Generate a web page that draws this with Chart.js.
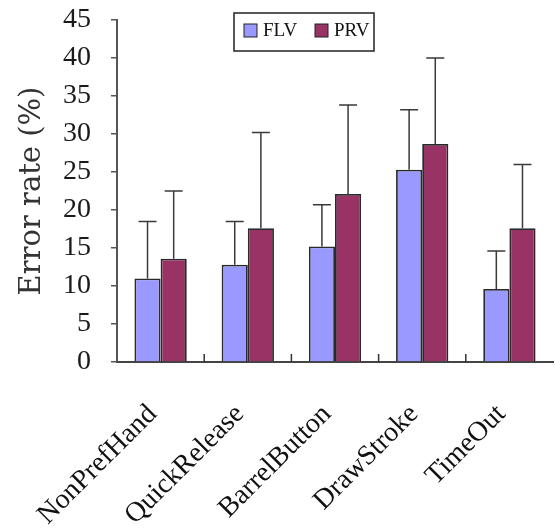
<!DOCTYPE html>
<html lang="en">
<head>
<meta charset="UTF-8">
<title>Error rate by technique</title>
<script src="https://cdn.jsdelivr.net/npm/chart.js"></script>
<style>
  html, body { margin: 0; padding: 0; background: #fff; }
  #wrap { width: 555px; height: 531px; position: relative; }
</style>
</head>
<body>
<div id="wrap"><canvas id="errChart"></canvas></div>
<script>
// values (mean and +1 SD)
const categories = ['NonPrefHand', 'QuickRelease', 'BarrelButton', 'DrawStroke', 'TimeOut'];
const flvValues = [11.0, 12.8, 15.2, 25.3, 9.6];
const flvSd = [7.5, 5.7, 5.5, 7.9, 5.0];
const prvValues = [13.6, 17.6, 22.1, 28.7, 17.6];
const prvSd = [8.9, 12.6, 11.7, 11.3, 8.4];
const yMin = 0, yMax = 45, yStep = 5;

// vertical error bars, only the upper half
const errorBars = {
  id: 'errorBars',
  afterDatasetsDraw(chart) {
    const ctx = chart.ctx;
    const y = chart.scales.y;
    chart.data.datasets.forEach((ds, di) => {
      const meta = chart.getDatasetMeta(di);
      meta.data.forEach((bar, i) => {
        const top = y.getPixelForValue(ds.data[i] + ds.sd[i]);
        ctx.save();
        ctx.strokeStyle = '#3a3a3a';
        ctx.lineWidth = 1.5;
        ctx.beginPath();
        ctx.moveTo(bar.x, bar.y);
        ctx.lineTo(bar.x, top);
        ctx.moveTo(bar.x - 9, top);
        ctx.lineTo(bar.x + 9, top);
        ctx.stroke();
        ctx.restore();
      });
    });
  }
};

// small inward ticks between the groups on the x axis
const innerTicks = {
  id: 'innerTicks',
  afterDraw(chart) {
    const ctx = chart.ctx;
    const x = chart.scales.x;
    const bottom = chart.chartArea.bottom;
    ctx.save();
    ctx.strokeStyle = '#333';
    ctx.lineWidth = 1.5;
    ctx.beginPath();
    for (let i = 1; i < categories.length; i++) {
      const px = (x.getPixelForValue(i - 1) + x.getPixelForValue(i)) / 2;
      ctx.moveTo(px, bottom);
      ctx.lineTo(px, bottom - 8);
    }
    ctx.stroke();
    ctx.restore();
  }
};

// boxed legend inside the plot
const boxLegend = {
  id: 'boxLegend',
  afterDraw(chart) {
    const ctx = chart.ctx;
    ctx.save();
    ctx.fillStyle = '#fff';
    ctx.fillRect(234, 13, 140, 38);
    ctx.strokeStyle = '#222';
    ctx.lineWidth = 1.5;
    ctx.strokeRect(234, 13, 140, 38);
    ctx.font = '19px "Liberation Serif"';
    ctx.textBaseline = 'middle';
    const xs = [244, 315];
    chart.data.datasets.forEach((ds, i) => {
      ctx.fillStyle = ds.backgroundColor;
      ctx.fillRect(xs[i], 24, 13, 13);
      ctx.strokeStyle = '#222';
      ctx.lineWidth = 1;
      ctx.strokeRect(xs[i], 24, 13, 13);
      ctx.fillStyle = '#111';
      ctx.fillText(ds.label, xs[i] + 19, 31);
    });
    ctx.restore();
  }
};

new Chart(document.getElementById('errChart'), {
  type: 'bar',
  data: {
    labels: categories,
    datasets: [
      { label: 'FLV', data: flvValues, sd: flvSd, backgroundColor: '#9999ff', borderColor: '#2a2a2a', borderWidth: 1.8 },
      { label: 'PRV', data: prvValues, sd: prvSd, backgroundColor: '#993366', borderColor: '#2a2a2a', borderWidth: 1.8 }
    ]
  },
  options: {
    responsive: true,
    maintainAspectRatio: false,
    animation: false,
    devicePixelRatio: 1,
    layout: { padding: { top: 20, right: 2, left: 0, bottom: 0 } },
    datasets: { bar: { categoryPercentage: 0.6, barPercentage: 1.0 } },
    plugins: { legend: { display: false }, tooltip: { enabled: false } },
    scales: {
      x: {
        grid: { display: false, drawTicks: false },
        border: { display: true, color: '#444', width: 2 },
        ticks: {
          color: '#111',
          font: { family: 'Liberation Serif', size: 28 },
          minRotation: 45,
          maxRotation: 45,
          padding: 36,
          labelOffset: -8
        },
        afterFit(scale) {
          scale.height = 169;
          scale.paddingLeft = 0;
          scale.paddingRight = 0;
        }
      },
      y: {
        min: yMin,
        max: yMax,
        grid: { drawOnChartArea: false, drawTicks: true, tickLength: 6, color: '#555', lineWidth: 1.5 },
        border: { display: true, color: '#555', width: 2 },
        ticks: {
          stepSize: yStep,
          autoSkip: false,
          color: '#1a1a1a',
          padding: 20,
          font: { family: 'Liberation Serif', size: 28 }
        },
        title: {
          display: true,
          text: 'Error rate (%)',
          color: '#333',
          font: { family: 'DejaVu Serif', size: 29 },
          padding: { top: 15, bottom: 0 }
        },
        afterFit(scale) {
          scale.width = 117;
          scale.paddingTop = 0;
          scale.paddingBottom = 0;
        }
      }
    }
  },
  plugins: [errorBars, innerTicks, boxLegend]
});
</script>
</body>
</html>
